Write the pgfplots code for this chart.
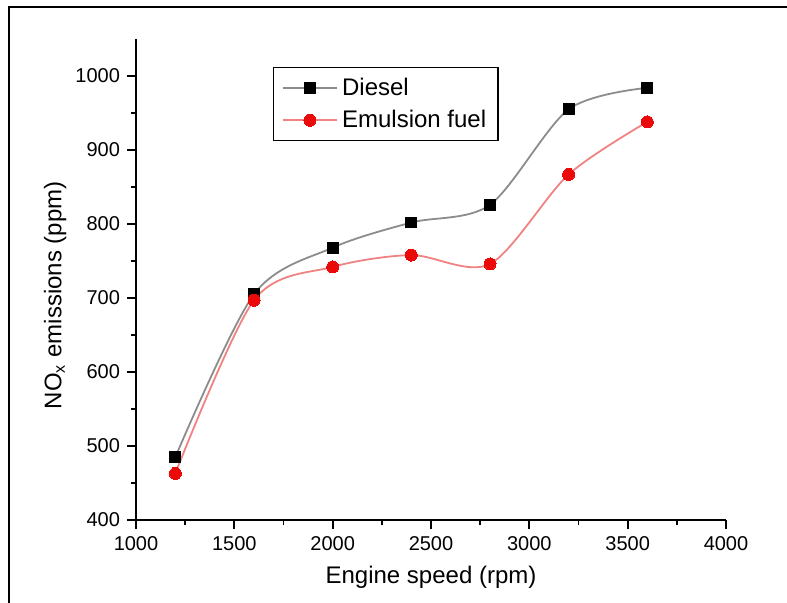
\documentclass[border=0pt]{standalone}
\usepackage{fontspec}
\setmainfont{Liberation Sans}
\usepackage{pgfplots}
\pgfplotsset{compat=1.18}

\definecolor{dieselline}{RGB}{140,140,140}
\definecolor{emulline}{RGB}{240,130,130}
\definecolor{emulmark}{RGB}{235,10,10}

\begin{document}
\begin{tikzpicture}
% page = 787 x 603 px at 0.5pt per px
\useasboundingbox (0pt,0pt) rectangle (393.5pt,-301.5pt);
\draw[line width=1.1pt] (4.5pt,-301.5pt) -- (4.5pt,-3.5pt) -- (393.5pt,-3.5pt);

\begin{axis}[
    at={(68pt,-260pt)}, anchor=south west,
    scale only axis,
    width=295pt, height=240.5pt,
    xmin=1000, xmax=4000,
    ymin=400, ymax=1050,
    xtick={1000,1500,...,4000},
    ytick={400,500,...,1000},
    minor x tick num=1,
    minor y tick num=1,
    axis x line*=bottom,
    axis y line*=left,
    axis line style={line width=0.9pt, -},
    tick align=outside,
    major tick length=4.5pt,
    minor tick length=2.5pt,
    every tick/.style={black, line width=0.9pt},
    /pgf/number format/assume math mode=true,
    /pgf/number format/1000 sep={},
    tick label style={font=\fontsize{10}{12}\selectfont},
    xlabel={Engine speed (rpm)},
    ylabel={NO\textsubscript{x} emissions (ppm)},
    label style={font=\fontsize{12}{14}\selectfont},
    xlabel style={at={(axis description cs:0.5,-0.119)}, anchor=center},
    ylabel style={at={(axis description cs:-0.137,0.467)}, anchor=center},
    legend style={at={(rel axis cs:0.232,0.942)}, anchor=north west,
        draw=black, line width=0.8pt, font=\fontsize{12}{14}\selectfont,
        inner xsep=4pt, inner ysep=3pt, row sep=2pt},
    legend cell align=left,
    legend image code/.code={
        \draw[mark repeat=2, mark phase=2]
            plot coordinates {(0cm,0cm) (0.48cm,0cm) (0.96cm,0cm)};
    },
]
\addplot[dieselline, line width=0.9pt, smooth,
    mark=square*, mark size=2.7pt,
    mark options={fill=black, draw=black, line width=0pt}]
    coordinates {(1200,485) (1600,705) (2000,768) (2400,802)
                 (2800,826) (3200,955) (3600,984)};
\addlegendentry{Diesel}

\addplot[emulline, line width=0.9pt, smooth,
    mark=*, mark size=3pt,
    mark options={fill=emulmark, draw=emulmark, line width=0pt}]
    coordinates {(1200,463) (1600,697) (2000,742) (2400,758)
                 (2800,746) (3200,867) (3600,938)};
\addlegendentry{Emulsion fuel}
\end{axis}
\end{tikzpicture}
\end{document}
